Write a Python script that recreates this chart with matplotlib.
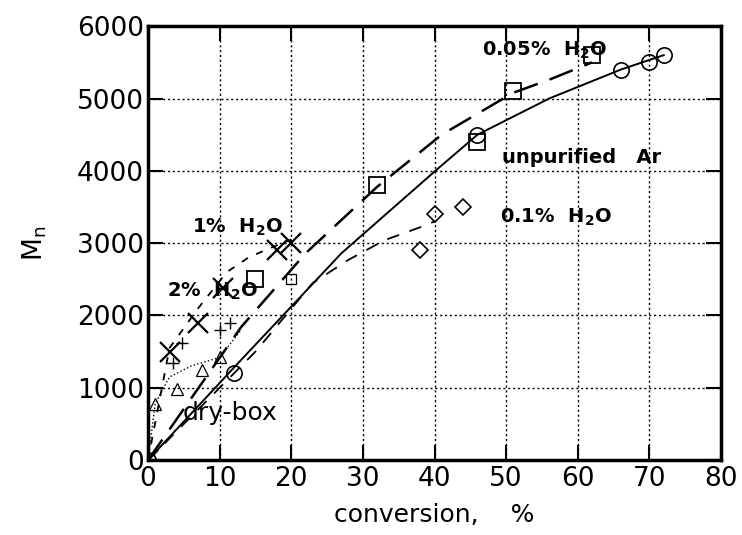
import matplotlib.pyplot as plt

# unpurified Ar (circles)
ar_x = [0, 12, 46, 66, 70, 72]
ar_y = [0, 1200, 4500, 5400, 5500, 5600]
ar_line_x = [0, 12, 27, 40, 46, 56, 66, 72]
ar_line_y = [0, 1280, 2860, 3990, 4500, 5000, 5400, 5600]

# 0.05% H2O (squares)
sq_x = [15, 32, 46, 51, 62]
sq_y = [2500, 3800, 4400, 5100, 5600]
sq_line_x = [0, 13, 22, 32, 41, 51, 56, 62]
sq_line_y = [0, 1840, 2860, 3780, 4500, 5080, 5260, 5500]

# 0.1% H2O (diamonds)
dm_x = [38, 40, 44]
dm_y = [2900, 3400, 3500]
dm_line_x = [0, 15, 23, 28, 33, 38, 40]
dm_line_y = [0, 1500, 2450, 2770, 3040, 3220, 3300]

# 1% / 2% H2O (crosses)
cr_x = [0, 3, 7, 10.5, 18, 20]
cr_y = [0, 1500, 1900, 2380, 2900, 3000]
cr_line_x = [0, 3, 7, 11, 14, 17, 20]
cr_line_y = [0, 1550, 2100, 2600, 2800, 2930, 3050]

# dry-box (triangles, plus signs)
tr_x = [1, 4, 7.5, 10]
tr_y = [780, 980, 1250, 1420]
pl_x = [3.5, 4.8, 10, 11.5]
pl_y = [1340, 1620, 1800, 1900]
db_line_x = [0, 1, 3, 6, 10, 13]
db_line_y = [0, 780, 1150, 1300, 1420, 1800]
ds_x = [20]
ds_y = [2500]

plt.rcParams['font.family'] = ['DejaVu Sans']
fig = plt.figure(figsize=(7.42, 5.35), dpi=100)
ax = fig.add_axes([0.1995, 0.140, 0.7722, 0.811])

ax.plot(ar_line_x, ar_line_y, color='black', lw=1.4, ls='-')
ax.plot(ar_x, ar_y, 'o', mfc='none', mec='black', ms=11, mew=1.2)

ax.plot(sq_line_x, sq_line_y, color='black', lw=1.8, dashes=(10, 5))
ax.plot(sq_x, sq_y, 's', mfc='none', mec='black', ms=11, mew=1.3)

ax.plot(dm_line_x, dm_line_y, color='black', lw=1.3, dashes=(7, 6))
ax.plot(dm_x, dm_y, 'D', mfc='none', mec='black', ms=8, mew=1.2)

ax.plot(cr_line_x, cr_line_y, color='black', lw=1.3, dashes=(4, 5))
ax.plot(cr_x, cr_y, 'x', color='black', ms=14, mew=1.6)

ax.plot(db_line_x, db_line_y, color='black', lw=1.0, ls=':')
ax.plot(tr_x, tr_y, '^', mfc='none', mec='black', ms=9, mew=0.9, ls='none')
ax.plot(pl_x, pl_y, '+', color='black', ms=9, mew=1.0, ls='none')
ax.plot(ds_x, ds_y, 's', mfc='none', mec='black', ms=7, mew=0.9)

ax.set_xlim(0, 80)
ax.set_ylim(0, 6000)
ax.set_xticks(range(0, 81, 10))
ax.set_yticks(range(0, 6001, 1000))
ax.grid(True, color='black', ls=(0, (1.5, 2)), lw=1.0)
ax.tick_params(direction='in', length=11, width=1.5, labelsize=19,
               top=True, right=True)
ax.tick_params(axis='x', pad=4)
ax.tick_params(axis='y', pad=3)
for s in ax.spines.values():
    s.set_linewidth(2.5)

ax.set_xlabel('conversion,    %', fontsize=18, labelpad=8)
ax.set_ylabel(r'M$_\mathregular{n}$', fontsize=19, labelpad=20)

kw = dict(fontsize=14, fontweight='bold', color='black')
ax.text(46.6, 5670, r'0.05%  H$_\mathregular{2}$O', va='center', **kw)
ax.text(49.4, 4190, 'unpurified   Ar', va='center', **kw)
ax.text(49.1, 3360, r'0.1%  H$_\mathregular{2}$O', va='center', **kw)
ax.text(6.1, 3220, r'1%  H$_\mathregular{2}$O', va='center', **kw)
ax.text(2.6, 2340, r'2%  H$_\mathregular{2}$O', va='center', **kw)
ax.text(4.9, 650, 'dry-box', va='center', fontsize=18, color='black')

fig.savefig('out.png', dpi=100)
